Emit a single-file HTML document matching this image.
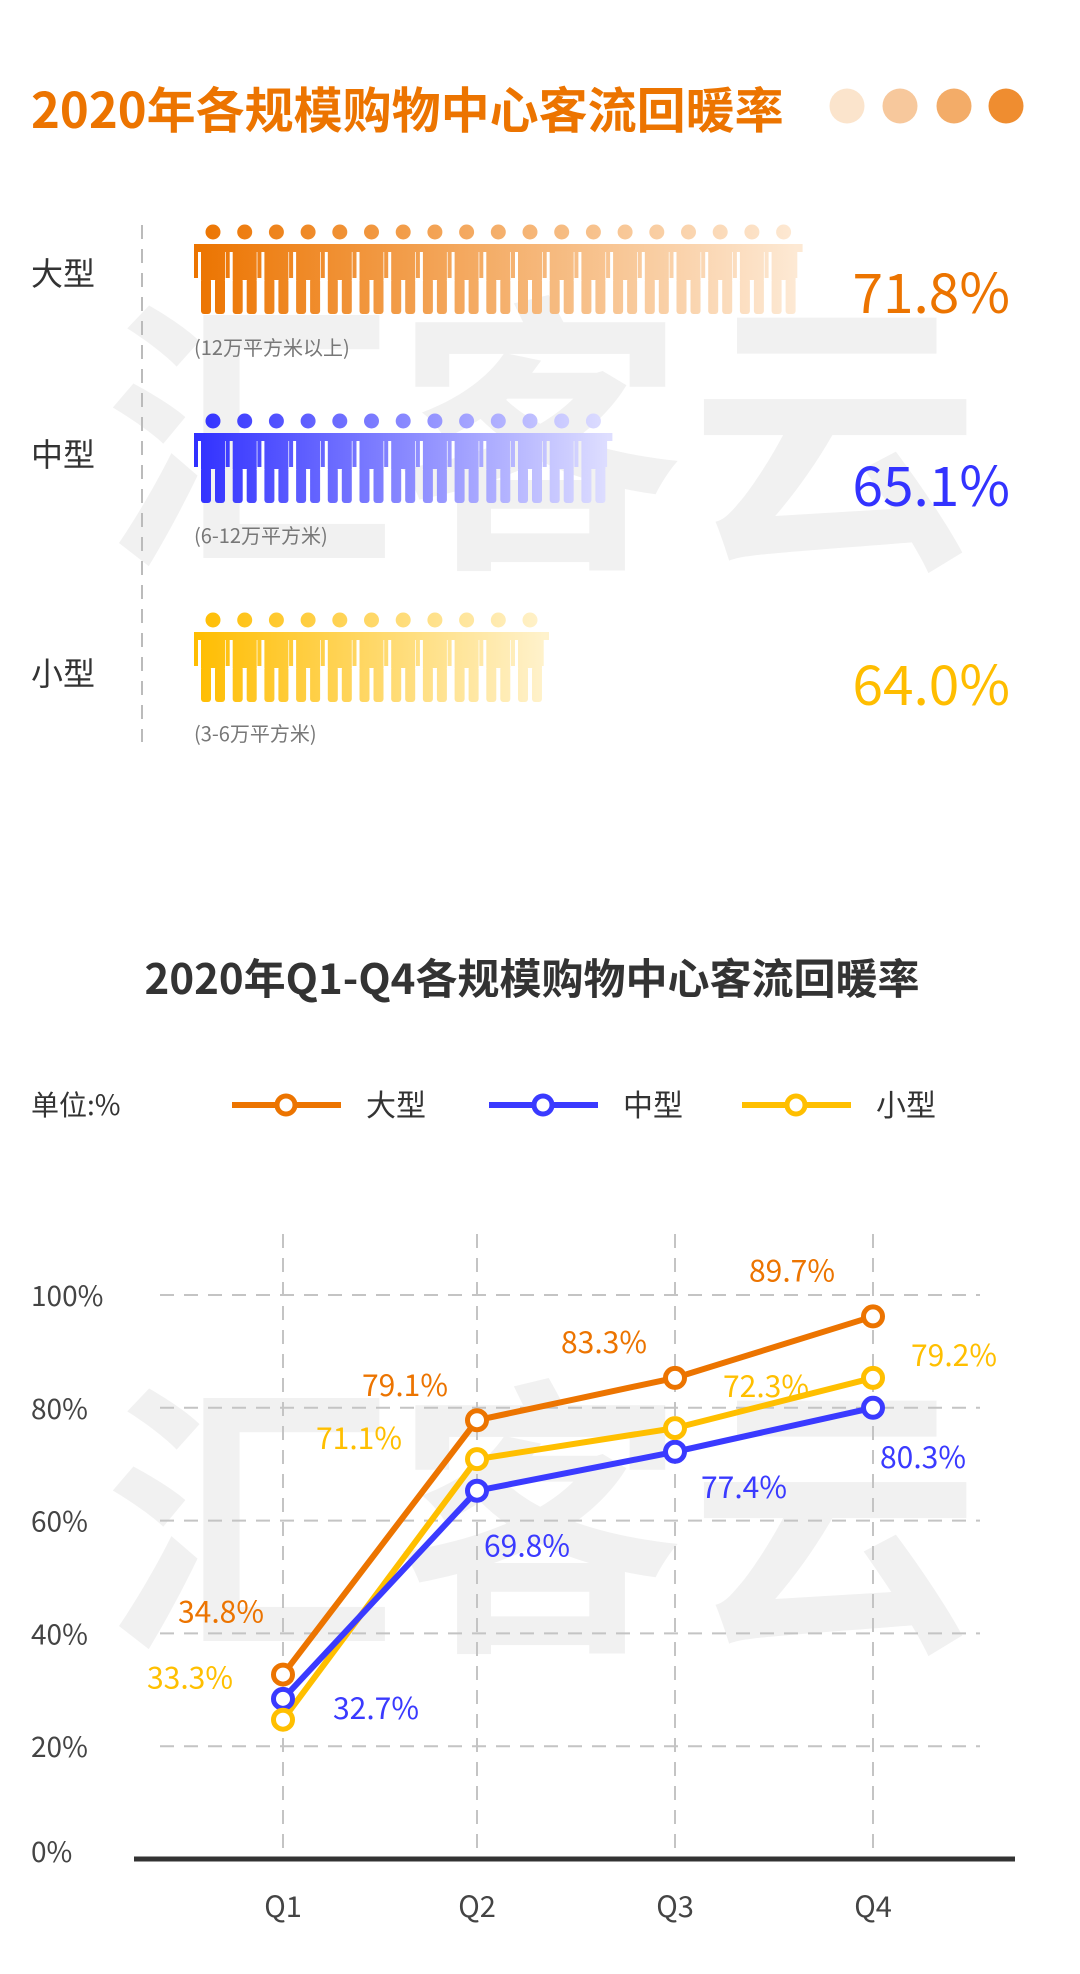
<!DOCTYPE html>
<html><head><meta charset="utf-8">
<style>
html,body{margin:0;padding:0;background:#fff;}
svg{display:block;font-family:"Noto Sans CJK SC","Liberation Sans",sans-serif;}
</style></head>
<body>
<svg id="page" width="1080" height="1974" viewBox="0 0 1080 1974" xmlns="http://www.w3.org/2000/svg">
<defs>
<linearGradient id="gOr" gradientUnits="userSpaceOnUse" x1="194" y1="0" x2="796" y2="0"><stop offset="0" stop-color="#ec7400"/><stop offset="1" stop-color="#fde9d4"/></linearGradient>
<linearGradient id="gBl" gradientUnits="userSpaceOnUse" x1="194" y1="0" x2="608" y2="0"><stop offset="0" stop-color="#3030ff"/><stop offset="1" stop-color="#dedeff"/></linearGradient>
<linearGradient id="gYe" gradientUnits="userSpaceOnUse" x1="194" y1="0" x2="545" y2="0"><stop offset="0" stop-color="#ffbd00"/><stop offset="1" stop-color="#fff2cc"/></linearGradient>
</defs>
<g fill="#f1f1f1" font-weight="bold" font-size="290">
<text x="105" y="545">汇</text><text x="395" y="545">客</text><text x="690" y="545">云</text>
</g>
<text x="31" y="128" font-size="49" font-weight="bold" fill="#ec7400">2020年各规模购物中心客流回暖率</text>
<g>
<circle cx="847" cy="106" r="17.5" fill="#fbe4cc"/><circle cx="900" cy="106" r="17.5" fill="#f7c89c"/><circle cx="954" cy="106" r="17.5" fill="#f3ac68"/><circle cx="1006" cy="106" r="17.5" fill="#ef8d30"/>
</g>
<line x1="142" y1="225" x2="142" y2="742" stroke="#bbb" stroke-width="2" stroke-dasharray="14 10"/>
<g id="people"></g>
<g font-size="32" fill="#333">
<text x="31" y="285">大型</text><text x="31" y="466">中型</text><text x="31" y="685">小型</text>
</g>
<g font-size="20" fill="#777">
<text x="194" y="355">(12万平方米以上)</text><text x="194" y="543">(6-12万平方米)</text><text x="194" y="741">(3-6万平方米)</text>
</g>
<g font-size="55" text-anchor="end">
<text x="1010" y="313" fill="#ec7400">71.8%</text><text x="1010" y="506" fill="#3333ff">65.1%</text><text x="1010" y="705" fill="#ffbd00">64.0%</text>
</g>
<g fill="#f1f1f1" font-weight="bold" font-size="290">
<text x="105" y="1628">汇</text><text x="395" y="1628">客</text><text x="690" y="1628">云</text>
</g>
<text x="532" y="994" font-size="42" font-weight="bold" fill="#333" text-anchor="middle">2020年Q1-Q4各规模购物中心客流回暖率</text>
<text x="31" y="1115" font-size="28" fill="#333">单位:%</text>
<g id="legend"></g>
<g id="chart"></g>
</svg>
<script>
var peopleCounts = [19, 13, 11];
var categories = ["Q1", "Q2", "Q3", "Q4"];
var seriesNames = ["大型", "中型", "小型"];
var largeValues = [32.7, 77.8, 85.3, 96.2];
var mediumValues = [28.4, 65.3, 72.2, 80.0];
var smallValues = [24.7, 70.9, 76.4, 85.3];
var largeLabels = ["34.8%", "79.1%", "83.3%", "89.7%"];
var mediumLabels = ["32.7%", "69.8%", "77.4%", "80.3%"];
var smallLabels = ["33.3%", "71.1%", "72.3%", "79.2%"];
var yTicks = [0, 20, 40, 60, 80, 100];
var yTickLabels = ["0%", "20%", "40%", "60%", "80%", "100%"];

var NS = "http://www.w3.org/2000/svg";
function mk(tag, attrs, parent){var e=document.createElementNS(NS,tag);for(var k in attrs)e.setAttribute(k,attrs[k]);parent.appendChild(e);return e;}

var pg = document.getElementById('people');
var rowsY = [232, 421, 620];
var grads = ["url(#gOr)", "url(#gBl)", "url(#gYe)"];
for (var r=0;r<peopleCounts.length;r++){
  var g = mk('g',{fill:grads[r]},pg);
  
  
  var hy = rowsY[r];
  for (var i=0;i<peopleCounts[r];i++){
    var cx = 213 + i*31.7;
    var c = mk('circle',{cx:cx,cy:hy,r:7.5},g);
    
    
    mk('rect',{x:cx-19,y:hy+12,width:38,height:8},g);
    mk('rect',{x:cx-19,y:hy+12,width:4,height:34},g);
    mk('rect',{x:cx-12,y:hy+12,width:24,height:36},g);
    mk('rect',{x:cx-12,y:hy+46,width:10,height:36,rx:3},g);
    mk('rect',{x:cx+2,y:hy+46,width:10,height:36,rx:3},g);
  }
  mk('rect',{x:194+peopleCounts[r]*31.7-3,y:hy+12,width:4,height:34},g);
}

var colors = ["#ec7400", "#3a3aff", "#ffbf00"];
var lg = document.getElementById('legend');
var lx = [232, 489, 742];
for (var s=0;s<3;s++){
  var li = mk('g',{},lg);
  
  
  mk('line',{x1:lx[s],y1:1105,x2:lx[s]+109,y2:1105,stroke:colors[s],'stroke-width':6},li);
  mk('circle',{cx:lx[s]+54,cy:1105,r:9,fill:'#fff',stroke:colors[s],'stroke-width':5},li);
  var t = mk('text',{x:lx[s]+134,y:1116,'font-size':30,fill:'#333'},li);
  t.textContent = seriesNames[s];
}

var ch = document.getElementById('chart');
function xPos(i){ return [283,477,675,873][i]; }
function yPos(v){ return 1859 - v*(1859-1295)/100; }
for (var k=1;k<yTicks.length;k++){
  var gl = mk('line',{x1:160,x2:980,y1:yPos(yTicks[k]),y2:yPos(yTicks[k]),stroke:'#c4c4c4','stroke-width':2,'stroke-dasharray':'14 10'},ch);
  
  
}
for (var k=0;k<yTicks.length;k++){
  var tl = mk('text',{x:31,y:yPos(yTicks[k])+11 - (k==0?8:0),'font-size':28,fill:'#444'},ch);
  
  
  tl.textContent = yTickLabels[k];
}
for (var i=0;i<categories.length;i++){
  var vl = mk('line',{x1:xPos(i),x2:xPos(i),y1:1234,y2:1859,stroke:'#c4c4c4','stroke-width':2,'stroke-dasharray':'14 10'},ch);
  
  
  var xl = mk('text',{x:xPos(i),y:1917,'font-size':29,fill:'#444','text-anchor':'middle'},ch);
  
  
  xl.textContent = categories[i];
}
var ax = mk('line',{x1:134,x2:1015,y1:1859,y2:1859,stroke:'#333','stroke-width':5},ch);



var allVals = [largeValues, mediumValues, smallValues];
var allLabels = [largeLabels, mediumLabels, smallLabels];
var offs = [
  [[-62,-62],[-72,-34],[-71,-35],[-81,-45]],
  [[93,10],[50,56],[69,36],[50,50]],
  [[-93,-41],[-118,-20],[91,-41],[81,-22]]
];
var order = [0,2,1];
for (var oi=0;oi<3;oi++){
  var s = order[oi];
  var sg = mk('g',{},ch);
  
  
  var pts = allVals[s].map(function(v,i){return xPos(i)+','+yPos(v);}).join(' ');
  var pl = mk('polyline',{points:pts,fill:'none',stroke:colors[s],'stroke-width':6,'stroke-linejoin':'round'},sg);
  
  
}
for (var s=0;s<3;s++){
  var mg = mk('g',{},ch);
  
  
  for (var i=0;i<allVals[s].length;i++){
    var pt = mk('circle',{cx:xPos(i),cy:yPos(allVals[s][i]),r:9.5,fill:'#fff',stroke:colors[s],'stroke-width':5},mg);
    
    
    var lb = mk('text',{x:xPos(i)+offs[s][i][0],y:yPos(allVals[s][i])+offs[s][i][1]+10,'font-size':30,fill:colors[s],'text-anchor':'middle'},mg);
    
    
    lb.textContent = allLabels[s][i];
  }
}
</script>
</body></html>
